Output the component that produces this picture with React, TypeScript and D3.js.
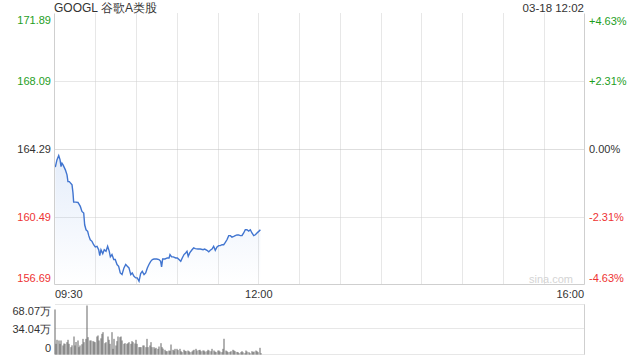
import React from "react";
import * as d3 from "d3";

const title = "GOOGL 谷歌A类股";
const stamp = "03-18 12:02";
const prevClose = 164.29;
const priceTicks = [171.89, 168.09, 164.29, 160.49, 156.69];
const volTicks = [68.07, 34.04, 0];
const volTickLabels = ["68.07万", "34.04万", "0"];
const timeLabels = ["09:30", "12:00", "16:00"];
const timeLabelMinutes = [0, 150, 390];

// minutes since 09:30 and price
const minutes = [
  0.6, 1.8, 3.1, 4.1, 4.8, 5.5, 6.3, 8.0, 9.2, 9.9, 10.9, 12.9, 13.6, 14.1, 15.8, 17.3,
  19.0, 20.2, 21.5, 22.2, 23.2, 24.4, 25.2, 26.3, 27.6, 28.8, 30.0, 31.3, 32.5, 33.3,
  34.2, 35.5, 36.6, 37.9, 39.1, 40.3, 41.1, 42.3, 43.6, 44.7, 46.0, 47.2, 48.4, 49.7,
  51.1, 52.4, 53.6, 54.8, 56.1, 57.2, 58.5, 59.8, 60.9, 62.2, 63.4, 64.6, 65.9, 67.1,
  68.3, 69.5, 70.8, 72.0, 73.2, 75.2, 76.9, 78.1, 78.8, 79.6, 81.3, 83.0, 84.3, 85.0,
  86.2, 87.4, 89.2, 90.4, 91.6, 92.9, 94.0, 95.3, 96.5, 97.5, 98.4, 99.5, 101.2, 102.4,
  103.6, 105.6, 107.3, 109.3, 110.5, 112.2, 113.5, 114.6, 115.9, 117.1, 118.3, 119.6,
  120.8, 122.0, 123.3, 124.5, 125.7, 126.9, 128.2, 129.4, 130.6, 131.9, 133.0, 134.3,
  135.5, 136.7, 138.0, 139.2, 140.4, 141.6, 142.9, 144.1, 145.3, 146.6, 147.8, 149.0,
  150.3, 151.5,
];
const prices = [
  163.27, 163.68, 163.92, 163.68, 163.30, 163.49, 163.40, 163.12, 162.84, 162.46, 162.46,
  162.28, 161.83, 161.31, 161.31, 161.29, 161.07, 160.79, 160.70, 160.04, 159.76, 159.67,
  159.43, 159.20, 159.11, 158.92, 158.80, 158.83, 158.64, 158.31, 158.64, 158.42, 158.64,
  158.55, 158.83, 158.55, 158.24, 158.37, 158.09, 158.09, 157.81, 157.71, 157.34, 157.25,
  157.62, 157.81, 157.71, 157.62, 157.25, 157.34, 157.15, 157.06, 157.06, 156.87, 157.30,
  157.43, 157.25, 157.34, 157.62, 157.81, 157.99, 158.09, 158.12, 158.12, 158.09, 157.99,
  157.68, 158.12, 158.12, 158.18, 158.18, 158.37, 158.24, 158.24, 158.18, 158.18, 158.09,
  157.99, 158.18, 158.37, 158.46, 158.55, 158.27, 158.46, 158.64, 158.74, 158.70, 158.68,
  158.68, 158.64, 158.68, 158.61, 158.52, 158.61, 158.68, 158.83, 158.61, 158.80, 158.87,
  158.87, 158.92, 158.92, 159.05, 159.20, 159.43, 159.43, 159.35, 159.39, 159.43, 159.47,
  159.47, 159.43, 159.44, 159.58, 159.76, 159.76, 159.69, 159.76, 159.58, 159.43, 159.48,
  159.58, 159.67, 159.76,
];

// per-minute volume, in 万 shares
const volumes = [
  61.3, 14.5, 20.0, 19.1, 14.5, 19.1, 12.3, 15.0, 14.5, 16.8, 20.0, 14.5, 10.0, 12.5, 24.5,
  12.3, 17.0, 19.1, 10.0, 12.3, 14.0, 21.3, 16.8, 21.3, 66.7, 23.6, 19.1, 19.1, 18.2, 17.5,
  16.8, 24.5, 25.9, 19.1, 22.0, 28.1, 30.4, 15.4, 16.8, 24.5, 20.0, 14.5, 30.4, 7.7, 21.3,
  12.3, 18.2, 24.5, 23.6, 24.5, 19.1, 14.5, 15.4, 14.5, 15.4, 16.8, 14.5, 18.2, 16.8, 15.0,
  20.0, 14.5, 10.0, 10.0, 10.0, 12.3, 12.3, 10.0, 21.3, 10.0, 12.3, 16.8, 10.0, 10.0, 8.0,
  9.1, 7.7, 10.9, 15.4, 10.0, 8.0, 6.4, 4.5, 4.5, 5.4, 5.0, 13.6, 6.4, 5.4, 7.7, 7.7, 6.0,
  7.7, 4.5, 3.2, 6.4, 5.0, 4.5, 5.4, 4.5, 3.2, 4.0, 5.4, 6.4, 7.7, 5.4, 6.0, 6.4, 4.5, 5.4,
  5.4, 4.0, 4.5, 6.4, 5.4, 4.5, 7.7, 5.4, 4.0, 3.2, 5.4, 5.4, 4.0, 3.2, 7.7, 21.4, 5.4, 4.5,
  3.2, 3.5, 4.5, 6.4, 5.4, 4.5, 3.5, 3.2, 1.8, 3.2, 4.5, 3.0, 1.8, 5.4, 4.0, 3.2, 1.8, 4.5,
  3.2, 4.0, 5.4, 4.5, 3.2, 9.1, 1.8,
];

const FONT = "'Liberation Sans', Arial, sans-serif";
const GREEN = "#1e9e1e";
const RED = "#ee3333";
const DARK = "#333333";
const GRID = "#cfcfcf";

export default function App() {
  const left = 54.5;
  const right = 584.5;
  const top = 13.5;
  const bottom = 284.5;
  const vTop = 304.5;
  const vBottom = 354.5;

  const x = d3.scaleLinear().domain([0, 390]).range([left, right]);
  const y = d3.scaleLinear().domain([156.69, 171.89]).range([bottom, top]);
  const v = d3.scaleLinear().domain([0, 68.07]).range([vBottom, vTop]);

  const pts = minutes.map((m, i) => [m, prices[i]] as [number, number]);
  const line = d3
    .line<[number, number]>()
    .x((d) => x(d[0]))
    .y((d) => y(d[1]));
  const area = d3
    .area<[number, number]>()
    .x((d) => x(d[0]))
    .y0(bottom)
    .y1((d) => y(d[1]));

  const gridMinutes = d3.range(30, 390, 30);
  const colorFor = (p: number) => (p > prevClose + 1e-6 ? GREEN : p < prevClose - 1e-6 ? RED : DARK);
  const pct = (p: number) => {
    const r = ((p - prevClose) / prevClose) * 100;
    return (r > 0 ? "+" : r < 0 ? "-" : "") + Math.abs(r).toFixed(2) + "%";
  };
  const clamp = (val: number, lo: number, hi: number) => Math.max(lo, Math.min(hi, val));

  return (
    <div style={{ position: "fixed", left: 0, top: 0, width: 640, height: 360, background: "#fff" }}>
      <svg width={640} height={360} style={{ display: "block" }} fontFamily={FONT}>
        <defs>
          <linearGradient id="areaFill" x1="0" y1="0" x2="0" y2="1">
            <stop offset="0%" stopColor="#5b8fe0" stopOpacity={0.16} />
            <stop offset="100%" stopColor="#5b8fe0" stopOpacity={0.0} />
          </linearGradient>
        </defs>

        {/* title */}
        <text x={54} y={11.5} fontSize={12} fill={DARK}>{title}</text>
        <text x={584} y={11.5} fontSize={11.5} fill={DARK} textAnchor="end">{stamp}</text>

        {/* vertical grid */}
        {gridMinutes.map((m) => (
          <line key={m} x1={Math.round(x(m)) + 0.5} x2={Math.round(x(m)) + 0.5} y1={top} y2={bottom}
            stroke={GRID} strokeDasharray="1,1" />
        ))}
        {/* horizontal grid */}
        {priceTicks.slice(1, 4).map((p) => (
          <line key={p} x1={left} x2={right} y1={Math.round(y(p)) + 0.5} y2={Math.round(y(p)) + 0.5}
            stroke={p === prevClose ? "#bdbdbd" : GRID} strokeDasharray="1,1" />
        ))}

        {/* area and line */}
        <path d={area(pts) || ""} fill="url(#areaFill)" />
        <path d={line(pts) || ""} fill="none" stroke="#4175d0" strokeWidth={1.4} />

        {/* borders */}
        <line x1={left} x2={left} y1={top} y2={bottom} stroke={GRID} />
        <line x1={right} x2={right} y1={top} y2={bottom} stroke={GRID} />
        <line x1={left} x2={right} y1={bottom} y2={bottom} stroke={GRID} />

        {/* watermark */}
        <text x={573} y={283} fontSize={11} fill="#d4d4d4" textAnchor="end">sina.com</text>

        {/* price labels */}
        {priceTicks.map((p) => (
          <text key={"l" + p} x={51} y={clamp(y(p), 20, 278)} dy="0.35em" fontSize={11}
            fill={colorFor(p)} textAnchor="end">{p.toFixed(2)}</text>
        ))}
        {priceTicks.map((p) => (
          <text key={"r" + p} x={589} y={clamp(y(p), 21, 278)} dy="0.35em" fontSize={11}
            fill={colorFor(p)} textAnchor="start">{pct(p)}</text>
        ))}

        {/* time labels */}
        {timeLabels.map((t, i) => (
          <text key={t} x={x(timeLabelMinutes[i]) + (i === 2 ? -0.5 : 0.5)} y={294} dy="0.35em"
            fontSize={11} fill={DARK}
            textAnchor={i === 0 ? "start" : i === 2 ? "end" : "middle"}>{t}</text>
        ))}

        {/* volume grid */}
        {volTicks.map((t) => (
          <line key={"vg" + t} x1={left + 1} x2={right} y1={Math.round(v(t)) - 0.5} y2={Math.round(v(t)) - 0.5}
            stroke={GRID} strokeDasharray="1,1" />
        ))}
        <line x1={right} x2={right} y1={vTop} y2={vBottom} stroke={GRID} />

        {/* volume bars */}
        {volumes.map((val, i) => (
          <rect key={"vb" + i} x={Math.round(x(i)) - 0.5} y={v(val)} width={1} height={vBottom - v(val)}
            fill="#666666" />
        ))}

        {/* volume labels */}
        {volTicks.map((t, i) => (
          <text key={"vl" + t} x={51} y={clamp(v(t), 311.5, 348)} dy="0.35em" fontSize={11}
            fill={DARK} textAnchor="end">{volTickLabels[i]}</text>
        ))}
      </svg>
    </div>
  );
}
